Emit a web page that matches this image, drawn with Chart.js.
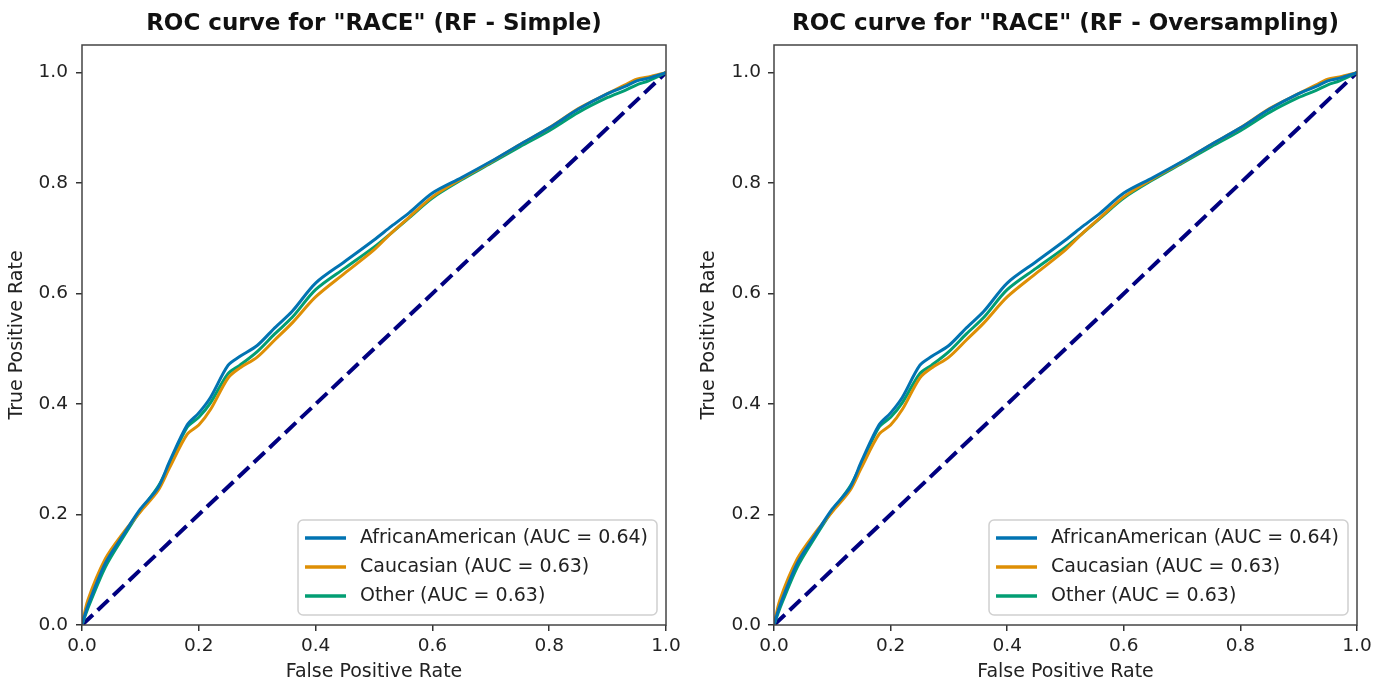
<!DOCTYPE html>
<html>
<head>
<meta charset="utf-8">
<script src="https://cdn.jsdelivr.net/npm/chart.js@4.4.0/dist/chart.umd.min.js"></script>
<style>
  html, body { margin: 0; padding: 0; background: #fff; }
  .panel { position: absolute; top: 0; height: 684px; }
  #panel-simple { left: 0; width: 694px; }
  #panel-over { left: 694px; width: 695px; }
</style>
</head>
<body>
<div class="panel" id="panel-simple"><canvas id="chart-simple"></canvas></div>
<div class="panel" id="panel-over"><canvas id="chart-over"></canvas></div>
<script>
// ============================================================
// Data (both panels look the same)
// ============================================================
const FPR = [0, 0.01, 0.04, 0.07, 0.10, 0.13, 0.15, 0.18, 0.20, 0.22, 0.25, 0.27, 0.30, 0.33, 0.36,
  0.40, 0.45, 0.50, 0.53, 0.56, 0.60, 0.65, 0.70, 0.75, 0.80, 0.85, 0.90, 0.93, 0.95, 0.97, 1.0];

const TPR_AFRICAN = [0, 0.035, 0.112, 0.162, 0.21, 0.248, 0.296, 0.362, 0.384, 0.412, 0.47, 0.486, 0.506, 0.538, 0.568,
  0.619, 0.658, 0.697, 0.722, 0.746, 0.782, 0.81, 0.839, 0.87, 0.9, 0.934, 0.962, 0.975, 0.985, 0.99, 1.0];
const TPR_CAUCASIAN = [0, 0.045, 0.12, 0.166, 0.205, 0.243, 0.285, 0.345, 0.362, 0.39, 0.447, 0.465, 0.485, 0.516, 0.547,
  0.594, 0.637, 0.679, 0.71, 0.738, 0.775, 0.808, 0.838, 0.87, 0.9, 0.935, 0.962, 0.978, 0.988, 0.992, 1.0];
const TPR_OTHER = [0, 0.03, 0.105, 0.158, 0.207, 0.25, 0.292, 0.358, 0.376, 0.402, 0.455, 0.47, 0.495, 0.527, 0.557,
  0.607, 0.646, 0.684, 0.71, 0.737, 0.773, 0.806, 0.836, 0.866, 0.895, 0.928, 0.955, 0.968, 0.978, 0.985, 1.0];

const CHANCE_X = [0, 1];
const CHANCE_Y = [0, 1];

const SERIES_LABELS = ['AfricanAmerican (AUC = 0.64)', 'Caucasian (AUC = 0.63)', 'Other (AUC = 0.63)'];
const SERIES_COLORS = ['#0173b2', '#de8f05', '#029e73'];
const TITLES = ['ROC curve for "RACE" (RF - Simple)', 'ROC curve for "RACE" (RF - Oversampling)'];

Chart.defaults.font.family = "'DejaVu Sans', sans-serif";
Chart.defaults.color = '#222';

// ============================================================
// Plugins: full box frame + legend in lower right corner
// ============================================================
const axesFrame = {
  id: 'axesFrame',
  afterDatasetsDraw(chart) {
    const { ctx, chartArea: a } = chart;
    ctx.save();
    ctx.strokeStyle = '#444';
    ctx.lineWidth = 1.5;
    ctx.strokeRect(a.left, a.top, a.width, a.height);
    ctx.restore();
  },
};

const cornerLegend = {
  id: 'cornerLegend',
  afterDatasetsDraw(chart) {
    const { ctx, chartArea } = chart;
    const items = chart.data.datasets.filter(d => d.inLegend);
    ctx.save();
    ctx.font = "19px 'DejaVu Sans'";
    const textW = Math.max(...items.map(d => ctx.measureText(d.label).width));
    const rowH = 29, padL = 7, handle = 41, gap = 14, padR = 9, padT = 18, padB = 19;
    const w = padL + handle + gap + textW + padR;
    const h = padT + rowH * (items.length - 1) + padB;
    const x = chartArea.right - 9 - w;
    const y = chartArea.bottom - 10 - h;
    ctx.beginPath();
    ctx.roundRect(x, y, w, h, 5);
    ctx.fillStyle = 'rgba(255,255,255,0.8)';
    ctx.fill();
    ctx.strokeStyle = '#d0d0d0';
    ctx.lineWidth = 1.5;
    ctx.stroke();
    items.forEach((d, i) => {
      const cy = y + padT + i * rowH;
      ctx.beginPath();
      ctx.moveTo(x + padL, cy);
      ctx.lineTo(x + padL + handle, cy);
      ctx.strokeStyle = d.borderColor;
      ctx.lineWidth = 3.5;
      ctx.stroke();
      ctx.fillStyle = '#222';
      ctx.textBaseline = 'middle';
      ctx.fillText(d.label, x + padL + handle + gap, cy);
    });
    ctx.restore();
  },
};

// ============================================================
// Chart builder
// ============================================================
function toPoints(xs, ys) {
  return xs.map((x, i) => ({ x, y: ys[i] }));
}

function makeRocChart(canvasId, title, cfg) {
  const rocSeries = [TPR_AFRICAN, TPR_CAUCASIAN, TPR_OTHER];
  const datasets = rocSeries.map((tpr, i) => ({
    label: SERIES_LABELS[i],
    inLegend: true,
    data: toPoints(FPR, tpr),
    borderColor: SERIES_COLORS[i],
    borderWidth: 3,
    tension: 0.3,
    borderJoinStyle: 'round',
    pointRadius: 0,
    fill: false,
  }));
  datasets.push({
    label: 'chance',
    inLegend: false,
    data: toPoints(CHANCE_X, CHANCE_Y),
    borderColor: '#000080',
    borderWidth: 4,
    borderDash: [15, 6.5],
    pointRadius: 0,
    fill: false,
  });

  new Chart(document.getElementById(canvasId), {
    type: 'line',
    data: { datasets },
    plugins: [axesFrame, cornerLegend],
    options: {
      responsive: true,
      maintainAspectRatio: false,
      animation: false,
      layout: { padding: { left: 0, right: cfg.padRight, top: 0, bottom: 0 } },
      plugins: {
        legend: { display: false },
        tooltip: { enabled: false },
        title: {
          display: true,
          text: title,
          fullSize: false,
          color: '#111',
          font: { size: 23, weight: 'bold' },
          padding: { top: 10, bottom: 7.4 },
        },
      },
      scales: {
        x: {
          type: 'linear',
          min: 0,
          max: 1,
          border: { display: false },
          grid: { drawOnChartArea: false, drawTicks: true, tickLength: 6, color: '#333', lineWidth: 1.5 },
          ticks: {
            stepSize: 0.2, includeBounds: false, padding: 4, maxRotation: 0,
            color: '#222', font: { size: 18.5 },
            callback: v => v.toFixed(1),
          },
          title: { display: true, text: 'False Positive Rate', color: '#222', font: { size: 19 }, padding: { top: 0, bottom: 1 } },
          afterFit: s => { s.height = 59; },
        },
        y: {
          type: 'linear',
          min: 0,
          max: 1.05,
          border: { display: false },
          grid: { drawOnChartArea: false, drawTicks: true, tickLength: 6, color: '#333', lineWidth: 1.5 },
          ticks: {
            stepSize: 0.2, includeBounds: false, padding: cfg.yTickPad,
            color: '#222', font: { size: 18.5 },
            callback: v => v.toFixed(1),
          },
          title: { display: true, text: 'True Positive Rate', color: '#222', font: { size: 19 }, padding: { top: cfg.yTitlePad, bottom: 0 } },
          afterFit: s => { s.width = cfg.yWidth; },
        },
      },
    },
  });
}

makeRocChart('chart-simple', TITLES[0], { yWidth: 82, padRight: 28, yTickPad: 8, yTitlePad: 6 });
makeRocChart('chart-over', TITLES[1], { yWidth: 80, padRight: 32, yTickPad: 7, yTitlePad: 4 });
</script>
</body>
</html>
